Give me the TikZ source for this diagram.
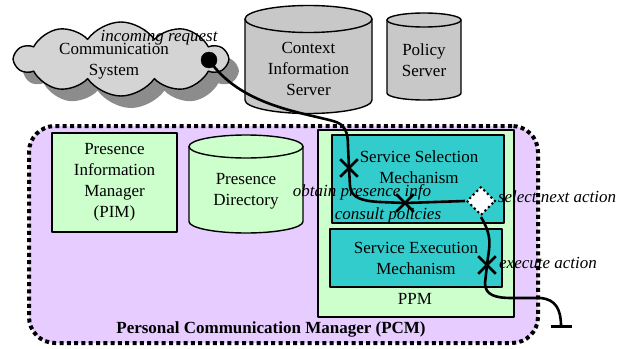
\documentclass[tikz,border=0pt]{standalone}
\usepackage{fontspec}
\setmainfont{Liberation Serif}
\newfontfamily\pcmserif{Liberation Serif}
\usetikzlibrary{shapes.symbols,shapes.geometric,shapes.misc,shadows,arrows.meta}

\definecolor{pcmlilac}{RGB}{230,204,255}
\definecolor{mintgreen}{RGB}{204,255,204}
\definecolor{mechteal}{RGB}{51,204,204}
\definecolor{srvgray}{RGB}{200,200,200}
\definecolor{cloudgray}{RGB}{212,212,212}
\definecolor{shadegray}{RGB}{140,140,140}

\newcommand{\pcmfont}{\pcmserif\fontsize{17}{21}\selectfont}
% drum: fill, left x, right x, top centre y, bottom centre y, rim radius
\newcommand{\drum}[6]{%
  \filldraw[fill=#1,line width=1.4pt] (#2,#4) -- (#2,#5)
    arc[start angle=180,end angle=0,x radius={(#3-#2)/2},y radius=#6] -- (#3,#4) -- cycle;
  \filldraw[fill=#1,line width=1.4pt] ({(#2+#3)/2},#4) ellipse[x radius={(#3-#2)/2},y radius=#6];
}

\begin{document}
\begin{tikzpicture}[x=1pt,y=-1pt,line join=round,font=\pcmfont,
    lbl/.style={align=center,inner sep=0pt},
    act/.style={font=\pcmfont\itshape,inner sep=0pt},
    box/.style={draw,line width=1.4pt,align=center,inner sep=0pt},
    xmark/.style={cross out,draw,line width=2.6pt,minimum size=15pt,inner sep=0pt},
    flow/.style={line width=2.6pt}]
\useasboundingbox (0,0) rectangle (618,348);

% the manager and what sits in it
\node[box,fill=pcmlilac,draw=black,line width=4pt,dash pattern=on 4pt off 3.3pt,
      rounded corners=26pt,minimum width=509,minimum height=217] (pcm) at (283.5,234.5) {};
\node[lbl,font=\pcmfont\bfseries] (pcmlabel) at (271,329) {Personal Communication Manager (PCM)};

\node[box,fill=mintgreen,minimum width=125,minimum height=99] (pim) at (114.5,182.5)
  {Presence\\Information\\Manager\\(PIM)};

\node[box,fill=mintgreen,minimum width=196,minimum height=187] (ppm) at (416,223.5) {};
\node[lbl] (ppmlabel) at (415,299) {PPM};
\node[box,fill=mechteal,minimum width=172,minimum height=88] (ssm) at (418,179) {};
\node[lbl] (ssmtext) at (419,167) {Service Selection\\Mechanism};
\node[box,fill=mechteal,minimum width=172,minimum height=58] (sem) at (416,258)
  {Service Execution\\Mechanism};

% servers
\drum{srvgray}{245}{372}{19}{100}{13.5}
\node[lbl] (cistext) at (308.5,69) {Context\\Information\\Server};
\drum{srvgray}{387}{461}{20}{93}{7}
\node[lbl] (polstext) at (424,60) {Policy\\Server};
\drum{mintgreen}{189}{303}{146.5}{221.5}{11.5}
\node[lbl] (pdtext) at (246,191) {Presence\\Directory};

% communication system
\node[cloud,cloud puffs=10,cloud puff arc=110,aspect=3,draw,line width=1.4pt,fill=cloudgray,
      general shadow={fill=shadegray,shadow xshift=10pt,shadow yshift=-12pt},
      minimum width=212,minimum height=74,inner sep=0pt] (comsys) at (121,59) {};
\node[lbl] (comsystext) at (114,61) {Communication\\System};

% steps along the request
\node[circle,fill=black,draw,minimum size=16,inner sep=0pt] (req) at (209,60) {};
\node[xmark] (obtain) at (349,168) {};
\node[xmark] (consult) at (405,203) {};
\node[xmark] (execute) at (487,265) {};
\node[diamond,fill=white,draw,line width=3pt,line cap=round,dash pattern=on 0pt off 5pt,
      minimum width=29,minimum height=29,inner sep=0pt] (select) at (481,201) {};

\draw[flow] (req.center) .. controls (240,105) and (300,112) .. (333,121)
  .. controls (345,124) and (348,132) .. (348,146) -- (obtain.center) -- (350,186)
  .. controls (351,198) and (362,201) .. (380,202) -- (consult.center) -- (select.west);
\draw[flow,-{Bar[width=21pt,line width=2.6pt]}] (select.south)
  .. controls (486,226) and (491,235) .. (489,250) -- (execute.center) -- (485,283)
  .. controls (485,295) and (495,298) .. (512,298) -- (540,298)
  .. controls (556,299) and (561,310) .. (561,328);

\node[act] (inclbl) at (159,38) {incoming request};
\node[act] (obtlbl) at (362,192) {obtain presence info};
\node[act] (conlbl) at (388,215) {consult policies};
\node[act] (sellbl) at (557,197) {select next action};
\node[act] (exelbl) at (548,263) {execute action};
\end{tikzpicture}
\end{document}
